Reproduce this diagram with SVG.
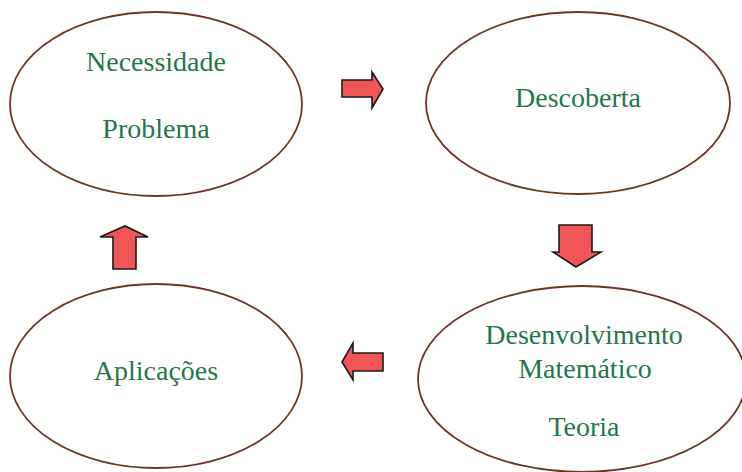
<svg xmlns="http://www.w3.org/2000/svg" width="742" height="472" viewBox="0 0 742 472">
<style>
.node{fill:#fff;stroke:#6b3524;stroke-width:1.8}
.t{font-family:"Liberation Serif",serif;font-size:28px;fill:#23774a;text-anchor:middle}
.arr{fill:#f05656;stroke:#1a1a1a;stroke-width:1.6;stroke-linejoin:miter}
</style>
<rect width="742" height="472" fill="#fff"/>
<g id="necessidade">
<ellipse class="node" cx="156" cy="104" rx="146" ry="92"/>
<text class="t" x="156" y="71">Necessidade</text>
<text class="t" x="156" y="138">Problema</text>
</g>
<g id="descoberta">
<ellipse class="node" cx="578" cy="103" rx="152" ry="91"/>
<text class="t" x="578" y="107">Descoberta</text>
</g>
<g id="desenvolvimento">
<ellipse class="node" cx="582" cy="379" rx="164" ry="93"/>
<text class="t" x="584" y="344">Desenvolvimento</text>
<text class="t" x="585" y="378">Matemático</text>
<text class="t" x="584" y="436">Teoria</text>
</g>
<g id="aplicacoes">
<ellipse class="node" cx="156" cy="376" rx="146" ry="92"/>
<text class="t" x="156" y="380">Aplicações</text>
</g>
<g id="connectors">
<polygon class="arr" points="342,80 372,80 372,72 383,89 372,108 372,97 342,97"/>
<polygon class="arr" points="559,225 592,225 592,252 601,252 576,267 553,252 559,252"/>
<polygon class="arr" points="383,353 353,353 353,343 342,362 353,380 353,371 383,371"/>
<polygon class="arr" points="113,269 113,237 100,237 125,226 148,237 136,237 136,269"/>
</g>
</svg>
